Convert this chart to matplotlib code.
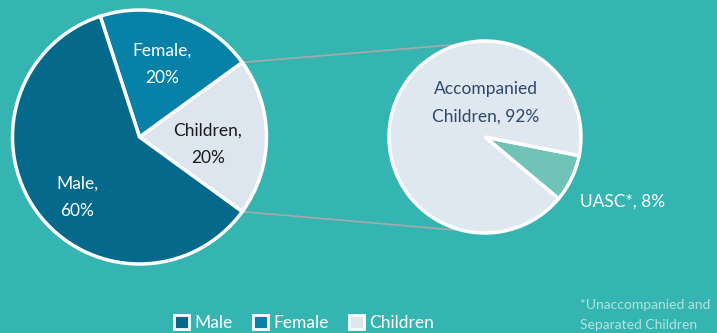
import matplotlib.pyplot as plt
import numpy as np
from matplotlib.patches import Patch

plt.rcParams['font.family'] = ['Lato', 'DejaVu Sans']

# data
groups = ['Male', 'Female', 'Children']
group_pct = [60, 20, 20]
child_groups = ['Accompanied\nChildren', 'UASC*']
child_pct = [92, 8]

bg = '#35b5b1'
group_colors = ['#05698b', '#0781a8', '#dde6ef']
child_colors = ['#dfe7f1', '#70c3b7']

fig = plt.figure(figsize=(7.17, 3.33), dpi=100)
fig.patch.set_facecolor(bg)
ax = fig.add_axes([0, 0, 1, 1])
ax.set_facecolor(bg)

c1 = (139.5, 196)
r1 = 127
c2 = (485, 196)
r2 = 96

# left pie: Children, Female, Male counterclockwise from -36 deg
order = [2, 1, 0]
ax.pie([group_pct[i] for i in order], colors=[group_colors[i] for i in order],
       startangle=-36, counterclock=True, center=c1, radius=r1,
       wedgeprops=dict(edgecolor='white', linewidth=2.5), frame=True)

# right pie (children breakdown)
ax.pie(child_pct[::-1], colors=child_colors[::-1], startangle=-40,
       counterclock=True, center=c2, radius=r2,
       wedgeprops=dict(edgecolor='white', linewidth=2.5), frame=True)
ax.set_xlim(0, 717)
ax.set_ylim(0, 333)
ax.set_aspect('equal')
ax.axis('off')

# connector lines
a = np.deg2rad(36)
ax.plot([c1[0] + r1 * np.cos(a), 463], [c1[1] + r1 * np.sin(a), 333 - 44],
        color='#a9a9a9', lw=1.2, zorder=0)
ax.plot([c1[0] + r1 * np.cos(a), 455], [c1[1] - r1 * np.sin(a), 333 - 230],
        color='#a9a9a9', lw=1.2, zorder=0)

fs = 12.5
ls = 1.85
ax.text(77, 333 - 197, f'{groups[0]},\n{group_pct[0]}%', color='white', fontsize=fs,
        ha='center', va='center', linespacing=ls)
ax.text(162, 333 - 64, f'{groups[1]},\n{group_pct[1]}%', color='white', fontsize=fs,
        ha='center', va='center', linespacing=ls)
ax.text(208, 333 - 144, f'{groups[2]},\n{group_pct[2]}%', color='#1a1a1a', fontsize=fs,
        ha='center', va='center', linespacing=ls)
ax.text(486, 333 - 103, f'{child_groups[0]}, {child_pct[0]}%', color='#2f4868',
        fontsize=fs, ha='center', va='center', linespacing=ls)
ax.text(580, 333 - 202, f'{child_groups[1]}, {child_pct[1]}%', color='white',
        fontsize=fs, ha='left', va='center')

ax.text(580, 333 - 299, '*Unaccompanied and\nSeparated Children', color='#b4e3df',
        fontsize=10, ha='left', va='top', linespacing=1.8)

handles = [Patch(facecolor=c, edgecolor='white', linewidth=2) for c in group_colors]
ax.legend(handles, groups, loc='center', bbox_to_anchor=(304 / 717, 1 - 323 / 333),
          ncol=3, frameon=False, fontsize=fs, handlelength=0.85, handleheight=0.85,
          handletextpad=0.3, columnspacing=1.2, labelcolor='white')

fig.savefig('out.png', dpi=100, facecolor=bg)
